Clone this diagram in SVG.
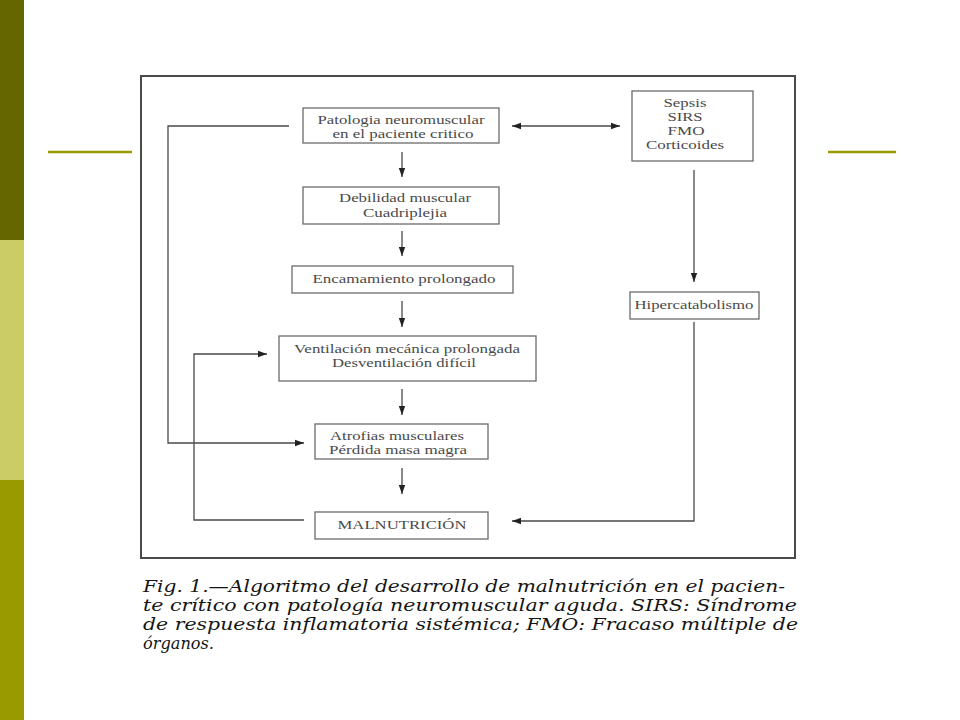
<svg xmlns="http://www.w3.org/2000/svg" width="960" height="720" viewBox="0 0 960 720">
<style>
.box{fill:#fff;stroke:#6a6a6a;stroke-width:1.3}
.t{font-family:"Liberation Serif","Times New Roman",serif;font-size:12.5px;fill:#4a4a4a;text-anchor:middle}
.c{fill:none;stroke:#4a4a4a;stroke-width:1.3}
.cap{font-family:"DejaVu Serif","Liberation Serif",serif;font-style:italic;font-size:17.5px;fill:#151515}
</style>
<defs>
<marker id="ah" markerUnits="userSpaceOnUse" markerWidth="10" markerHeight="8" refX="9" refY="4" orient="auto-start-reverse">
<path d="M0,0.8 L9,4 L0,7.2 Z" fill="#222"/>
</marker>
</defs>
<rect width="960" height="720" fill="#fff"/>
<g id="sidebar">
<rect x="0" y="0" width="24" height="240" fill="#666600"/>
<rect x="0" y="240" width="24" height="240" fill="#cccc66"/>
<rect x="0" y="480" width="24" height="240" fill="#999900"/>
<line x1="48" y1="152" x2="132" y2="152" stroke="#999900" stroke-width="2.5"/>
<line x1="828" y1="152" x2="896" y2="152" stroke="#999900" stroke-width="2.5"/>
</g>
<rect id="frame" x="141" y="76" width="654" height="482" fill="#fff" stroke="#4a4a4a" stroke-width="2"/>
<g id="connectors">
<line class="c" x1="402" y1="152" x2="402" y2="177" marker-end="url(#ah)"/>
<line class="c" x1="402" y1="231" x2="402" y2="256" marker-end="url(#ah)"/>
<line class="c" x1="402" y1="301" x2="402" y2="327" marker-end="url(#ah)"/>
<line class="c" x1="402" y1="389" x2="402" y2="415" marker-end="url(#ah)"/>
<line class="c" x1="402" y1="468" x2="402" y2="494" marker-end="url(#ah)"/>
<line class="c" x1="512" y1="126" x2="620" y2="126" marker-start="url(#ah)" marker-end="url(#ah)"/>
<line class="c" x1="694" y1="170" x2="694" y2="282" marker-end="url(#ah)"/>
<polyline class="c" points="694,322 694,521 512,521" marker-end="url(#ah)"/>
<polyline class="c" points="289,126 168,126 168,443 304,443" marker-end="url(#ah)"/>
<polyline class="c" points="304,520 194,520 194,354 267,354" marker-end="url(#ah)"/>
</g>
<g id="n-patologia">
<rect class="box" x="303" y="108" width="196" height="35"/>
<text class="t" x="401" y="124" textLength="167" lengthAdjust="spacingAndGlyphs">Patologia neuromuscular</text>
<text class="t" x="403" y="138" textLength="141" lengthAdjust="spacingAndGlyphs">en el paciente critico</text>
</g>
<g id="n-debilidad">
<rect class="box" x="303" y="187" width="196" height="37"/>
<text class="t" x="405" y="202" textLength="132" lengthAdjust="spacingAndGlyphs">Debilidad muscular</text>
<text class="t" x="405" y="217" textLength="84" lengthAdjust="spacingAndGlyphs">Cuadriplejia</text>
</g>
<g id="n-encamamiento">
<rect class="box" x="292" y="266" width="221" height="27"/>
<text class="t" x="404" y="283" textLength="183" lengthAdjust="spacingAndGlyphs">Encamamiento prolongado</text>
</g>
<g id="n-ventilacion">
<rect class="box" x="279" y="336" width="257" height="45"/>
<text class="t" x="407" y="353" textLength="226" lengthAdjust="spacingAndGlyphs">Ventilación mecánica prolongada</text>
<text class="t" x="404" y="367" textLength="144" lengthAdjust="spacingAndGlyphs">Desventilación difícil</text>
</g>
<g id="n-atrofias">
<rect class="box" x="315" y="424" width="173" height="35"/>
<text class="t" x="397" y="440" textLength="134" lengthAdjust="spacingAndGlyphs">Atrofias musculares</text>
<text class="t" x="398" y="454" textLength="138" lengthAdjust="spacingAndGlyphs">Pérdida masa magra</text>
</g>
<g id="n-malnutricion">
<rect class="box" x="315" y="512" width="173" height="27"/>
<text class="t" x="402" y="529" textLength="129" lengthAdjust="spacingAndGlyphs">MALNUTRICIÓN</text>
</g>
<g id="n-sepsis">
<rect class="box" x="632" y="91" width="121" height="70"/>
<text class="t" x="685" y="107" textLength="43" lengthAdjust="spacingAndGlyphs">Sepsis</text>
<text class="t" x="685" y="121" textLength="35" lengthAdjust="spacingAndGlyphs">SIRS</text>
<text class="t" x="686" y="135" textLength="37" lengthAdjust="spacingAndGlyphs">FMO</text>
<text class="t" x="685" y="149" textLength="78" lengthAdjust="spacingAndGlyphs">Corticoides</text>
</g>
<g id="n-hipercatabolismo">
<rect class="box" x="630" y="292" width="129" height="27"/>
<text class="t" x="694" y="309" textLength="119" lengthAdjust="spacingAndGlyphs">Hipercatabolismo</text>
</g>
<g id="caption">
<text class="cap" x="143" y="592" textLength="642" lengthAdjust="spacingAndGlyphs">Fig. 1.—Algoritmo del desarrollo de malnutrición en el pacien-</text>
<text class="cap" x="143" y="611" textLength="654" lengthAdjust="spacingAndGlyphs">te crítico con patología neuromuscular aguda. SIRS: Síndrome</text>
<text class="cap" x="143" y="630" textLength="655" lengthAdjust="spacingAndGlyphs">de respuesta inflamatoria sistémica; FMO: Fracaso múltiple de</text>
<text class="cap" x="143" y="649" textLength="71" lengthAdjust="spacingAndGlyphs">órganos.</text>
</g>
</svg>
